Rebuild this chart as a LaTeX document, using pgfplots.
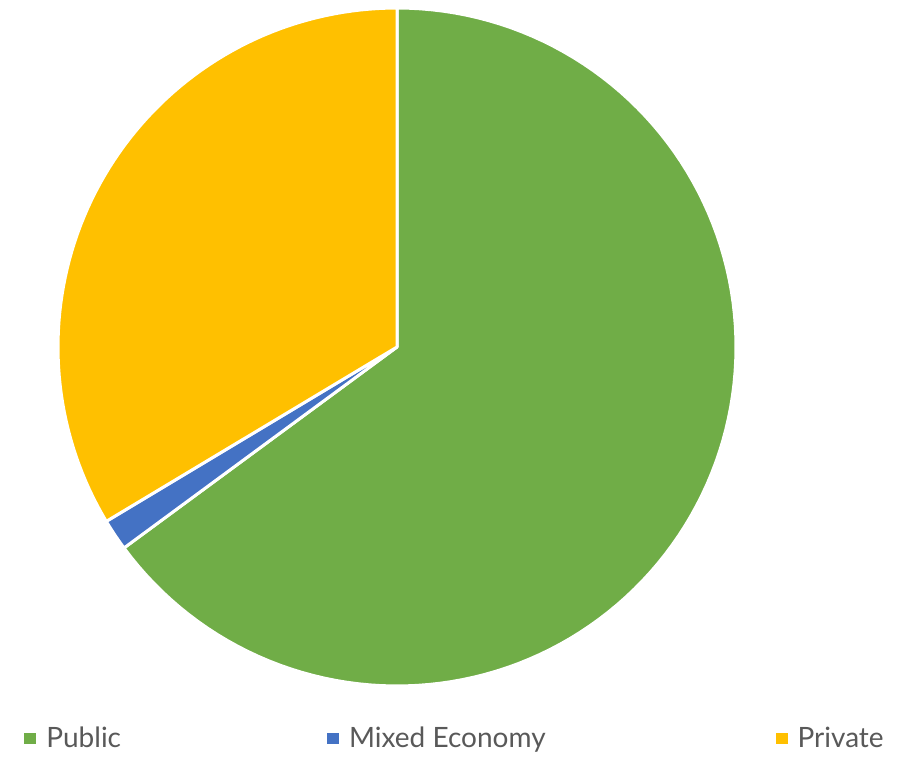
\documentclass[border=0pt]{standalone}
\usepackage{pgfplots}
\pgfplotsset{compat=1.18}
\usepackage{pgfplotstable}
\usepackage{fontspec}
\setmainfont{Lato}
\definecolor{cPublic}{HTML}{70AD47}
\definecolor{cMixed}{HTML}{4472C4}
\definecolor{cPrivate}{HTML}{FFC000}
\definecolor{txt}{HTML}{595959}

\pgfplotstableread{
label value
Public 64.9
Mixed 1.5
Private 33.6
}\piedata

\pgfplotstablegetelem{0}{value}\of\piedata \let\vA\pgfplotsretval
\pgfplotstablegetelem{1}{value}\of\piedata \let\vB\pgfplotsretval
\pgfplotstablegetelem{2}{value}\of\piedata \let\vC\pgfplotsretval
\pgfmathsetmacro\aA{90}
\pgfmathsetmacro\aB{90-3.6*\vA}
\pgfmathsetmacro\aC{\aB-3.6*\vB}
\pgfmathsetmacro\aD{\aC-3.6*\vC}
\def\cx{397}
\def\cy{410}
\def\rr{339}

\begin{document}
\begin{tikzpicture}
\begin{axis}[
  x=0.5pt, y=0.5pt,
  xmin=0, xmax=916, ymin=0, ymax=757,
  hide axis, clip=false,
  legend columns=3,
  legend cell align=left,
  legend image code/.code={\fill[#1,draw=none] (0pt,-2.75pt) rectangle (6pt,2.75pt);},
  legend style={at={(axis cs:24,18.5)}, anchor=west, draw=none, fill=none,
    inner xsep=0pt, inner ysep=0pt,
    font=\fontsize{14}{16}\selectfont, text=txt,
    /tikz/column 1/.style={column sep=3pt},
    /tikz/column 3/.style={column sep=3pt},
    /tikz/column 5/.style={column sep=3pt},
    /tikz/column 2/.style={column sep=101pt},
    /tikz/column 4/.style={column sep=113pt}},
]
\path (axis cs:0,0) rectangle (axis cs:916,757);
\addplot[fill=cPublic, draw=white, line width=1.5pt, line join=round, domain=\aB:\aA, samples=120, variable=\t]
  ({\cx+\rr*cos(\t)}, {\cy+\rr*sin(\t)}) -- (axis cs:\cx,\cy) -- cycle;
\addlegendentry{Public}
\addplot[fill=cMixed, draw=white, line width=1.5pt, line join=round, domain=\aC:\aB, samples=10, variable=\t]
  ({\cx+\rr*cos(\t)}, {\cy+\rr*sin(\t)}) -- (axis cs:\cx,\cy) -- cycle;
\addlegendentry{Mixed Economy}
\addplot[fill=cPrivate, draw=white, line width=1.5pt, line join=round, domain=\aD:\aC, samples=80, variable=\t]
  ({\cx+\rr*cos(\t)}, {\cy+\rr*sin(\t)}) -- (axis cs:\cx,\cy) -- cycle;
\addlegendentry{Private}
\end{axis}
\end{tikzpicture}
\end{document}
